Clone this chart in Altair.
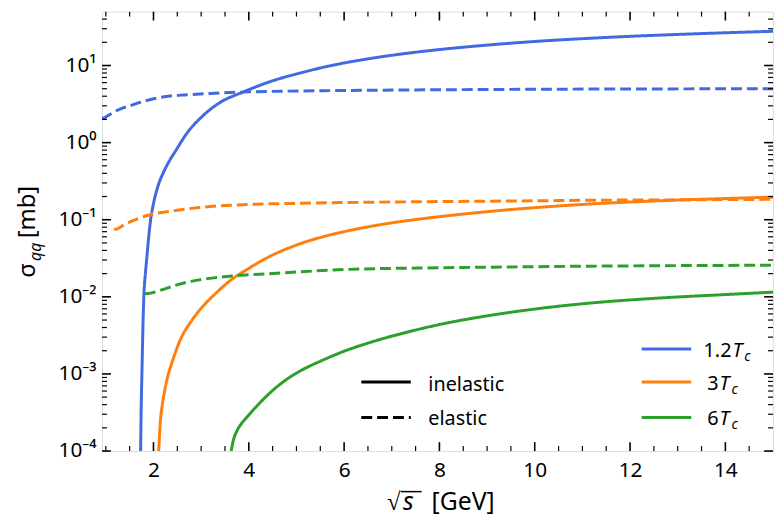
import altair as alt
import pandas as pd

# ---------------- data ----------------
temps = ["1.2Tc", "3Tc", "6Tc"]
colors = ["#4169e1", "#ff7f0e", "#2ca02c"]
kinds = ["inelastic", "elastic"]

# 1.2 Tc
b_inel_x = [1.73, 1.74, 1.76, 1.78, 1.80, 1.83, 1.86, 1.90, 1.94, 2.0, 2.1, 2.2, 2.32, 2.48, 2.7,
            3.04, 3.39, 3.87, 4.42, 5.11, 5.8, 6.5, 7.2, 8.0, 9.0, 10.0, 11.0, 12.0, 13.0, 14.0, 15.0]
b_inel_y = [1e-4, 3e-4, 1.2e-3, 4.5e-3, 0.011, 0.02, 0.032, 0.06, 0.10, 0.162, 0.28, 0.40, 0.56, 0.81, 1.32,
            2.24, 3.3, 4.5, 6.1, 8.1, 10.2, 12.2, 14.1, 16.1, 18.4, 20.5, 22.3, 23.9, 25.3, 26.6, 27.8]
b_el_x = [0.92, 0.97, 1.0, 1.1, 1.2, 1.35, 1.5, 1.7, 2.0, 2.3, 2.7, 3.2, 3.73, 4.5, 5.8, 7.0, 8.5,
          10.0, 11.2, 12.5, 14.0, 15.0]
b_el_y = [2.1, 2.08, 2.15, 2.35, 2.55, 2.8, 3.0, 3.3, 3.7, 4.0, 4.17, 4.35, 4.5, 4.62, 4.73, 4.8, 4.87,
          4.92, 4.95, 4.97, 4.99, 5.0]

# 3 Tc
o_inel_x = [2.11, 2.14, 2.18, 2.23, 2.28, 2.4, 2.56, 2.8, 3.04, 3.3, 3.59, 4.0, 4.35, 5.04, 5.5, 6.0,
            6.8, 7.73, 8.6, 9.46, 10.3, 11.18, 12.5, 14.0, 15.0]
o_inel_y = [1.0e-4, 2.24e-4, 3.8e-4, 5.89e-4, 8.32e-4, 1.48e-3, 2.75e-3, 4.9e-3, 7.59e-3, 0.011, 0.0159,
            0.0234, 0.0313, 0.0479, 0.0589, 0.070, 0.0871, 0.1047, 0.1202, 0.1349, 0.1479, 0.1603,
            0.175, 0.1884, 0.1963]
o_el_x = [1.17, 1.22, 1.27, 1.4, 1.58, 1.93, 2.4, 2.96, 4.0, 5.0, 6.0, 8.0, 10.0, 11.2, 13.0, 15.0]
o_el_y = [0.076, 0.075, 0.078, 0.087, 0.098, 0.116, 0.13, 0.144, 0.158, 0.163, 0.167, 0.172, 0.176,
          0.179, 0.181, 0.184]

# 6 Tc
g_inel_x = [3.63, 3.68, 3.75, 3.85, 3.94, 4.15, 4.42, 4.75, 5.11, 5.5, 5.8, 6.0, 6.5, 7.0, 7.39, 8.0,
            8.77, 9.5, 10.15, 11.18, 12.5, 14.0, 15.0]
g_inel_y = [1.0e-4, 1.41e-4, 1.82e-4, 2.29e-4, 2.66e-4, 3.72e-4, 5.5e-4, 8.13e-4, 1.12e-3, 1.46e-3,
            1.76e-3, 1.97e-3, 2.51e-3, 3.09e-3, 3.57e-3, 4.37e-3, 5.37e-3, 6.31e-3, 7.13e-3, 8.32e-3,
            9.55e-3, 1.07e-2, 1.15e-2]
g_el_x = [1.82, 1.86, 1.92, 2.0, 2.27, 2.6, 2.96, 3.3, 3.65, 4.69, 6.0, 8.0, 10.0, 11.2, 13.0, 15.0]
g_el_y = [0.0112, 0.011, 0.0111, 0.0114, 0.0129, 0.0149, 0.0166, 0.0177, 0.0186, 0.0204, 0.0226, 0.0238,
          0.0246, 0.025, 0.0254, 0.0257]

# axis tick values
x_major = [2, 4, 6, 8, 10, 12, 14]
x_minor = [1.0, 1.5, 2.5, 3.0, 3.5, 4.5, 5.0, 5.5, 6.5, 7.0, 7.5, 8.5, 9.0, 9.5, 10.5, 11.0, 11.5,
           12.5, 13.0, 13.5, 14.5]
y_major = [1e-4, 1e-3, 1e-2, 1e-1, 1e0, 1e1]
y_minor = [k * 10.0 ** e for e in range(-4, 2) for k in range(2, 10) if k * 10.0 ** e < 50]

series = [
    ("1.2Tc", "inelastic", b_inel_x, b_inel_y),
    ("1.2Tc", "elastic", b_el_x, b_el_y),
    ("3Tc", "inelastic", o_inel_x, o_inel_y),
    ("3Tc", "elastic", o_el_x, o_el_y),
    ("6Tc", "inelastic", g_inel_x, g_inel_y),
    ("6Tc", "elastic", g_el_x, g_el_y),
]
rows = []
for t, k, xs_, ys_ in series:
    for xv, yv in zip(xs_, ys_):
        rows.append({"x": xv, "y": yv, "temp": t, "kind": k, "series": t + k})
df = pd.DataFrame(rows)

# ---------------- chart ----------------
W, H = 678, 444
FONT = "Noto Sans"
one = alt.Data(values=[{"k": 0}])

xsc = alt.Scale(domain=[0.92, 15], nice=False, zero=False)
ysc = alt.Scale(type="log", domain=[1e-4, 50], nice=False)

x_axis = alt.Axis(values=x_major, ticks=False, domain=False, grid=False, labelFontSize=21,
                  labelPadding=9, title=None, labelFont=FONT, labelColor="black")
y_axis = alt.Axis(values=y_major, ticks=False, domain=False, grid=False, labelFontSize=21,
                  labelPadding=6, title=None, labelFont=FONT, labelColor="black",
                  labelExpr="'10' + ['⁻⁴','⁻³','⁻²','⁻¹','⁰','¹'][round(log(datum.value)/LN10)+4]")

lines = alt.Chart(df).mark_line(strokeWidth=3, clip=True, interpolate="monotone").encode(
    x=alt.X("x:Q", scale=xsc, axis=x_axis),
    y=alt.Y("y:Q", scale=ysc, axis=y_axis),
    color=alt.Color("temp:N", scale=alt.Scale(domain=temps, range=colors), legend=None),
    strokeDash=alt.StrokeDash("kind:N", scale=alt.Scale(domain=kinds, range=[[1, 0], [11, 5]]), legend=None),
    detail="series:N",
)


def yticks(vals, length, width):
    d = pd.DataFrame({"y": vals})
    base = alt.Chart(d).mark_rule(color="black", strokeWidth=width)
    left = base.encode(y=alt.Y("y:Q", scale=ysc, axis=y_axis), x=alt.value(0), x2=alt.value(length))
    right = base.encode(y=alt.Y("y:Q", scale=ysc, axis=y_axis), x=alt.value(W - length), x2=alt.value(W))
    return [left, right]


def xticks(vals, length, width):
    d = pd.DataFrame({"x": vals})
    base = alt.Chart(d).mark_rule(color="black", strokeWidth=width)
    top = base.encode(x=alt.X("x:Q", scale=xsc, axis=x_axis), y=alt.value(0), y2=alt.value(length))
    bottom = base.encode(x=alt.X("x:Q", scale=xsc, axis=x_axis), y=alt.value(H - length), y2=alt.value(H))
    return [top, bottom]


def txt(s, x, y, size, style="normal", align="left", angle=0):
    return alt.Chart(one).mark_text(text=s, font=FONT, fontSize=size, fontStyle=style, align=align,
                                    baseline="alphabetic", angle=angle, color="black").encode(
        x=alt.value(x), y=alt.value(y))


def seg(x1, x2, y, color, dash=None):
    kw = dict(color=color, strokeWidth=3)
    if dash:
        kw["strokeDash"] = dash
    return alt.Chart(one).mark_rule(**kw).encode(x=alt.value(x1), x2=alt.value(x2), y=alt.value(y))


layers = [lines]
layers += yticks(y_major, 9, 1.6) + yticks(y_minor, 5, 1.2)
layers += xticks(x_major, 9, 1.6) + xticks(x_minor, 5, 1.2)

# y-axis title  sigma_qq [mb]
layers += [
    txt("σ", -68, 269, 24, angle=270),
    txt("qq", -62, 252, 16, style="italic", angle=270),
    txt("[mb]", -68, 176, 24, align="right", angle=270),
]
# x-axis title  sqrt(s) [GeV]
layers += [
    txt("√", 288, 504, 25),
    txt("s", 304, 504, 25, style="italic"),
    txt("[GeV]", 333, 504, 25),
    alt.Chart(one).mark_rule(color="black", strokeWidth=1.5).encode(
        x=alt.value(302), x2=alt.value(323), y=alt.value(485)),
]
# line-style legend
layers += [
    seg(262, 312, 374.3, "black"),
    seg(262, 312, 410, "black", [11, 5]),
    txt("inelastic", 329.7, 383.7, 20),
    txt("elastic", 329.7, 417.7, 20),
]
# temperature legend
leg_y = [341, 374.3, 410]
leg_num = ["1.2", "3", "6"]
leg_tx = [636, 623, 623]
for i in range(3):
    layers += [
        seg(545.3, 595.3, leg_y[i], colors[i]),
        txt(leg_num[i], leg_tx[i], leg_y[i] + 8, 20, align="right"),
        txt("T", leg_tx[i] + 1, leg_y[i] + 8, 20, style="italic"),
        txt("c", leg_tx[i] + 13, leg_y[i] + 12, 14, style="italic"),
    ]

chart = alt.layer(*layers).properties(
    width=W, height=H,
    padding={"left": 95, "top": 1, "right": 2, "bottom": 66},
    autosize=alt.AutoSizeParams(type="none"),
).configure_view(stroke="black", strokeWidth=2).configure(background="white")

chart.save("out.html", embed_options={"renderer": "svg", "actions": False})
